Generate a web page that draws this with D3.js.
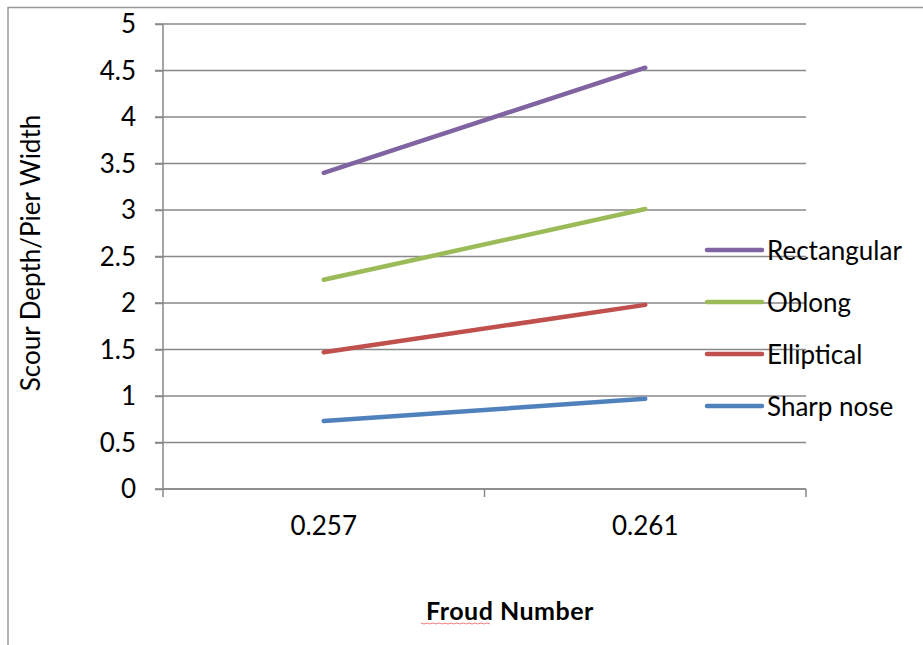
<!DOCTYPE html>
<html><head><meta charset="utf-8">
<script src="https://cdn.jsdelivr.net/npm/d3@7"></script>
<style>body{margin:0;background:#fff}svg{display:block}text{font-family:Lato,"Open Sans",sans-serif}</style>
</head><body><svg id="c" width="923" height="645"></svg>
<script>
const categories = ["0.257", "0.261"];
const seriesNames = ["Rectangular", "Oblong", "Elliptical", "Sharp nose"];
const rectangular = [3.40, 4.53];
const oblong = [2.25, 3.01];
const elliptical = [1.47, 1.98];
const sharpNose = [0.73, 0.97];
const yTicks = [0, 0.5, 1, 1.5, 2, 2.5, 3, 3.5, 4, 4.5, 5];
const colors = ["#8064A2", "#9BBB59", "#C0504D", "#4F81BD"];
const series = [rectangular, oblong, elliptical, sharpNose];

const FS = 26;
const svg = d3.select("#c");
const L = 163, R = 806, T = 24, B = 489;
// outer frame
svg.append("path").attr("d", "M8,645 L8,7.5 L923,7.5").attr("fill","none").attr("stroke","#999").attr("stroke-width",1.5);

const x = d3.scaleBand().domain(categories).range([L, R]);
const y = d3.scaleLinear().domain([0, 5]).range([B, T]);

// gridlines
svg.append("g").selectAll("line").data(yTicks).join("line")
  .attr("x1", L - 8).attr("x2", R).attr("y1", d => y(d)).attr("y2", d => y(d))
  .attr("stroke", "#898989").attr("stroke-width", 1.5);

// y axis
const yAxis = svg.append("g").attr("transform", `translate(${L},0)`)
  .call(d3.axisLeft(y).tickValues(yTicks).tickSize(8).tickPadding(19).tickFormat(d3.format("")));
yAxis.select(".domain").attr("stroke", "#898989").attr("stroke-width", 1.5).attr("d", `M0,${T}V${B}`);
yAxis.selectAll(".tick line").attr("stroke", "#898989").attr("stroke-width", 1.5);
yAxis.selectAll("text").attr("font-size", FS).attr("fill", "#000").attr("font-family", "Lato").attr("dy", "0.34em");

// x axis
const xAxis = svg.append("g").attr("transform", `translate(0,${B})`);
xAxis.append("line").attr("x1", L).attr("x2", R).attr("stroke", "#898989").attr("stroke-width", 1.5);
const bounds = [L, ...categories.map(c => x(c) + x.bandwidth())];
xAxis.selectAll(".tk").data(bounds).join("line").attr("class","tk")
  .attr("x1", d => d).attr("x2", d => d).attr("y1", 0).attr("y2", 8)
  .attr("stroke", "#898989").attr("stroke-width", 1.5);
xAxis.selectAll(".lb").data(categories).join("text").attr("class","lb")
  .attr("x", d => x(d) + x.bandwidth() / 2).attr("y", 46)
  .attr("text-anchor", "middle").attr("font-size", FS).text(d => d);

// lines
const line = d3.line().x((d, i) => x(categories[i]) + x.bandwidth() / 2).y(d => y(d));
svg.append("g").selectAll("path").data(series).join("path")
  .attr("d", d => line(d)).attr("fill", "none")
  .attr("stroke", (d, i) => colors[i]).attr("stroke-width", 4.5).attr("stroke-linecap", "round");

// legend
const lg = svg.append("g").selectAll("g").data(seriesNames).join("g")
  .attr("transform", (d, i) => `translate(707,${250 + i * 52})`);
lg.append("line").attr("x1", 0).attr("x2", 55).attr("stroke", (d, i) => colors[i])
  .attr("stroke-width", 4.5).attr("stroke-linecap", "round");
lg.append("text").attr("x", 60).attr("y", 10).attr("font-size", FS).text(d => d);

// axis titles
svg.append("text").attr("transform", "translate(40,253) rotate(-90)")
  .attr("text-anchor", "middle").attr("font-size", FS).text("Scour Depth/Pier Width");
svg.append("text").attr("x", 510).attr("y", 620).attr("text-anchor", "middle")
  .attr("font-size", 25).attr("font-weight", "bold").attr("letter-spacing", 0.5).text("Froud Number");
// spell-check squiggle
svg.append("path").attr("d", d3.range(0, 72, 3).map((v, i) => (i ? "L" : "M") + (421 + v) + "," + (623 + (i % 2 ? 1 : 0))).join(""))
  .attr("fill", "none").attr("stroke", "#f08080").attr("stroke-width", 1);
</script></body></html>
